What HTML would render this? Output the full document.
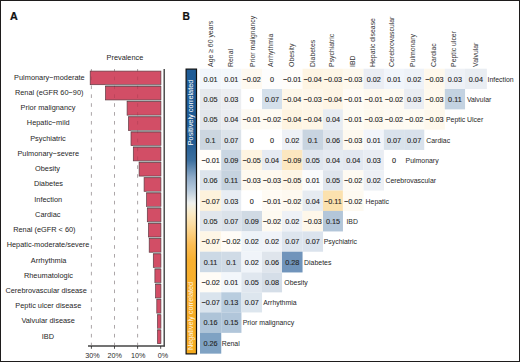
<!DOCTYPE html>
<html><head><meta charset="utf-8"><style>
html,body{margin:0;padding:0;background:#fff;}
body{width:520px;height:362px;overflow:hidden;}
svg{display:block;}
text{font-family:"Liberation Sans",sans-serif;}
</style></head><body>
<svg width="520" height="362" viewBox="0 0 520 362">
<defs>
<linearGradient id="cb" x1="0" y1="0" x2="0" y2="1">
<stop offset="0" stop-color="#1f5c96"/>
<stop offset="0.25" stop-color="#1f5a92"/>
<stop offset="0.32" stop-color="#3b6f9f"/>
<stop offset="0.38" stop-color="#8fabc8"/>
<stop offset="0.425" stop-color="#b7cadc"/>
<stop offset="0.47" stop-color="#eef0ee"/>
<stop offset="0.505" stop-color="#faebc8"/>
<stop offset="0.547" stop-color="#fcdca0"/>
<stop offset="0.617" stop-color="#fbbd55"/>
<stop offset="0.67" stop-color="#f8b030"/>
<stop offset="1" stop-color="#f5ab1e"/>
</linearGradient>
</defs>
<rect x="0" y="0" width="520" height="362" fill="#fff"/>

<text transform="translate(10.0,19.75) scale(0.94,1)" font-size="11.4" font-weight="bold" fill="#111" stroke="#111" stroke-width="0.25">A</text>
<text transform="translate(182.6,19.75) scale(0.9,1)" font-size="11.4" font-weight="bold" fill="#111" stroke="#111" stroke-width="0.25">B</text>
<text transform="translate(106.6,59.5) scale(0.93,1)" font-size="7.9" fill="#262626">Prevalence</text>
<line x1="91.4" y1="69" x2="91.4" y2="345" stroke="#a0a0a0" stroke-width="0.7" stroke-dasharray="3.6,5.27" stroke-dashoffset="1.25"/>
<line x1="114.5" y1="69" x2="114.5" y2="345" stroke="#a0a0a0" stroke-width="0.7" stroke-dasharray="3.6,5.27" stroke-dashoffset="1.25"/>
<line x1="137.6" y1="69" x2="137.6" y2="345" stroke="#a0a0a0" stroke-width="0.7" stroke-dasharray="3.6,5.27" stroke-dashoffset="1.25"/>
<rect x="90.2" y="71.10" width="70.70" height="13.6" fill="#d24e66" stroke="#5e3a42" stroke-width="0.7"/>
<text transform="translate(49.40,79.80) scale(0.91,1)" font-size="8.1" fill="#262626" text-anchor="middle">Pulmonary−moderate</text>
<rect x="105.20" y="84.73" width="55.70" height="1.6" fill="#a9b0b0"/>
<rect x="105.5" y="86.33" width="55.40" height="13.6" fill="#d24e66" stroke="#5e3a42" stroke-width="0.7"/>
<text transform="translate(49.20,95.03) scale(0.91,1)" font-size="8.1" fill="#262626" text-anchor="middle">Renal (eGFR 60−90)</text>
<rect x="126.80" y="99.96" width="34.10" height="1.6" fill="#a9b0b0"/>
<rect x="127.1" y="101.56" width="33.80" height="13.6" fill="#d24e66" stroke="#5e3a42" stroke-width="0.7"/>
<text transform="translate(48.00,110.26) scale(0.91,1)" font-size="8.1" fill="#262626" text-anchor="middle">Prior malignancy</text>
<rect x="128.20" y="115.19" width="32.70" height="1.6" fill="#a9b0b0"/>
<rect x="128.5" y="116.79" width="32.40" height="13.6" fill="#d24e66" stroke="#5e3a42" stroke-width="0.7"/>
<text transform="translate(48.25,125.49) scale(0.91,1)" font-size="8.1" fill="#262626" text-anchor="middle">Hepatic−mild</text>
<rect x="130.70" y="130.42" width="30.20" height="1.6" fill="#a9b0b0"/>
<rect x="131.0" y="132.02" width="29.90" height="13.6" fill="#d24e66" stroke="#5e3a42" stroke-width="0.7"/>
<text transform="translate(48.00,140.72) scale(0.91,1)" font-size="8.1" fill="#262626" text-anchor="middle">Psychiatric</text>
<rect x="133.00" y="145.65" width="27.90" height="1.6" fill="#a9b0b0"/>
<rect x="133.3" y="147.25" width="27.60" height="13.6" fill="#d24e66" stroke="#5e3a42" stroke-width="0.7"/>
<text transform="translate(48.25,155.95) scale(0.91,1)" font-size="8.1" fill="#262626" text-anchor="middle">Pulmonary−severe</text>
<rect x="138.80" y="160.88" width="22.10" height="1.6" fill="#a9b0b0"/>
<rect x="139.1" y="162.48" width="21.80" height="13.6" fill="#d24e66" stroke="#5e3a42" stroke-width="0.7"/>
<text transform="translate(47.50,171.18) scale(0.91,1)" font-size="8.1" fill="#262626" text-anchor="middle">Obesity</text>
<rect x="143.80" y="176.11" width="17.10" height="1.6" fill="#a9b0b0"/>
<rect x="144.1" y="177.71" width="16.80" height="13.6" fill="#d24e66" stroke="#5e3a42" stroke-width="0.7"/>
<text transform="translate(48.45,186.41) scale(0.91,1)" font-size="8.1" fill="#262626" text-anchor="middle">Diabetes</text>
<rect x="146.30" y="191.34" width="14.60" height="1.6" fill="#a9b0b0"/>
<rect x="146.6" y="192.94" width="14.30" height="13.6" fill="#d24e66" stroke="#5e3a42" stroke-width="0.7"/>
<text transform="translate(48.20,201.64) scale(0.91,1)" font-size="8.1" fill="#262626" text-anchor="middle">Infection</text>
<rect x="147.00" y="206.57" width="13.90" height="1.6" fill="#a9b0b0"/>
<rect x="147.3" y="208.17" width="13.60" height="13.6" fill="#d24e66" stroke="#5e3a42" stroke-width="0.7"/>
<text transform="translate(47.75,216.87) scale(0.91,1)" font-size="8.1" fill="#262626" text-anchor="middle">Cardiac</text>
<rect x="148.20" y="221.80" width="12.70" height="1.6" fill="#a9b0b0"/>
<rect x="148.5" y="223.40" width="12.40" height="13.6" fill="#d24e66" stroke="#5e3a42" stroke-width="0.7"/>
<text transform="translate(44.35,232.10) scale(0.91,1)" font-size="8.1" fill="#262626" text-anchor="middle">Renal (eGFR &lt; 60)</text>
<rect x="148.90" y="237.03" width="12.00" height="1.6" fill="#a9b0b0"/>
<rect x="149.2" y="238.63" width="11.70" height="13.6" fill="#d24e66" stroke="#5e3a42" stroke-width="0.7"/>
<text transform="translate(48.00,247.33) scale(0.91,1)" font-size="8.1" fill="#262626" text-anchor="middle">Hepatic-moderate/severe</text>
<rect x="153.00" y="252.26" width="7.90" height="1.6" fill="#a9b0b0"/>
<rect x="153.3" y="253.86" width="7.60" height="13.6" fill="#d24e66" stroke="#5e3a42" stroke-width="0.7"/>
<text transform="translate(48.60,262.56) scale(0.91,1)" font-size="8.1" fill="#262626" text-anchor="middle">Arrhythmia</text>
<rect x="154.60" y="267.49" width="6.30" height="1.6" fill="#a9b0b0"/>
<rect x="154.9" y="269.09" width="6.00" height="13.6" fill="#d24e66" stroke="#5e3a42" stroke-width="0.7"/>
<text transform="translate(48.45,277.79) scale(0.91,1)" font-size="8.1" fill="#262626" text-anchor="middle">Rheumatologic</text>
<rect x="155.30" y="282.72" width="5.60" height="1.6" fill="#a9b0b0"/>
<rect x="155.6" y="284.32" width="5.30" height="13.6" fill="#d24e66" stroke="#5e3a42" stroke-width="0.7"/>
<text transform="translate(46.15,293.02) scale(0.91,1)" font-size="8.1" fill="#262626" text-anchor="middle">Cerebrovascular disease</text>
<rect x="156.50" y="297.95" width="4.40" height="1.6" fill="#a9b0b0"/>
<rect x="156.8" y="299.55" width="4.10" height="13.6" fill="#d24e66" stroke="#5e3a42" stroke-width="0.7"/>
<text transform="translate(48.30,308.25) scale(0.91,1)" font-size="8.1" fill="#262626" text-anchor="middle">Peptic ulcer disease</text>
<rect x="157.20" y="313.18" width="3.70" height="1.6" fill="#a9b0b0"/>
<rect x="157.5" y="314.78" width="3.40" height="13.6" fill="#d24e66" stroke="#5e3a42" stroke-width="0.7"/>
<text transform="translate(48.15,323.48) scale(0.91,1)" font-size="8.1" fill="#262626" text-anchor="middle">Valvular disease</text>
<rect x="157.20" y="328.41" width="3.70" height="1.6" fill="#a9b0b0"/>
<rect x="157.5" y="330.01" width="3.40" height="13.6" fill="#d24e66" stroke="#5e3a42" stroke-width="0.7"/>
<text transform="translate(47.95,338.71) scale(0.91,1)" font-size="8.1" fill="#262626" text-anchor="middle">IBD</text>
<line x1="91.4" y1="69" x2="91.4" y2="345" stroke="#3a0a18" stroke-opacity="0.18" stroke-width="0.7" stroke-dasharray="3.6,5.27" stroke-dashoffset="1.25"/>
<line x1="114.5" y1="69" x2="114.5" y2="345" stroke="#3a0a18" stroke-opacity="0.18" stroke-width="0.7" stroke-dasharray="3.6,5.27" stroke-dashoffset="1.25"/>
<line x1="137.6" y1="69" x2="137.6" y2="345" stroke="#3a0a18" stroke-opacity="0.18" stroke-width="0.7" stroke-dasharray="3.6,5.27" stroke-dashoffset="1.25"/>
<line x1="164.2" y1="69.1" x2="164.2" y2="346.6" stroke="#333" stroke-width="1.3"/>
<line x1="88" y1="346" x2="164.85" y2="346" stroke="#444" stroke-width="1.3"/>
<line x1="91.4" y1="346" x2="91.4" y2="348.8" stroke="#222" stroke-width="0.8"/>
<text transform="translate(92.5,357.8) scale(0.95,1)" font-size="7.6" fill="#2a2a2a" text-anchor="middle">30%</text>
<line x1="114.5" y1="346" x2="114.5" y2="348.8" stroke="#222" stroke-width="0.8"/>
<text transform="translate(114.6,357.8) scale(0.95,1)" font-size="7.6" fill="#2a2a2a" text-anchor="middle">20%</text>
<line x1="137.6" y1="346" x2="137.6" y2="348.8" stroke="#222" stroke-width="0.8"/>
<text transform="translate(138.3,357.8) scale(0.95,1)" font-size="7.6" fill="#2a2a2a" text-anchor="middle">10%</text>
<line x1="160.7" y1="346" x2="160.7" y2="348.8" stroke="#222" stroke-width="0.8"/>
<text transform="translate(162.9,357.8) scale(0.95,1)" font-size="7.6" fill="#2a2a2a" text-anchor="middle">0%</text>
<rect x="200.00" y="68.70" width="21.25" height="20.35" fill="#f2f6fb"/>
<rect x="221.20" y="68.70" width="20.25" height="20.35" fill="#f4f8fc"/>
<rect x="241.40" y="68.70" width="20.65" height="20.35" fill="#fef9f0"/>
<rect x="262.00" y="68.70" width="20.05" height="20.35" fill="#fdfdfd"/>
<rect x="282.00" y="68.70" width="20.55" height="20.35" fill="#fffdfa"/>
<rect x="302.50" y="68.70" width="20.55" height="20.35" fill="#fef5e3"/>
<rect x="323.00" y="68.70" width="19.95" height="20.35" fill="#fef6e6"/>
<rect x="342.90" y="68.70" width="20.65" height="20.35" fill="#fef9ee"/>
<rect x="363.50" y="68.70" width="20.45" height="20.35" fill="#eaedf3"/>
<rect x="383.90" y="68.70" width="20.25" height="20.35" fill="#f1f5fb"/>
<rect x="404.10" y="68.70" width="20.15" height="20.35" fill="#eef2f8"/>
<rect x="424.20" y="68.70" width="20.65" height="20.35" fill="#fef8ec"/>
<rect x="444.80" y="68.70" width="20.25" height="20.35" fill="#eef1f6"/>
<rect x="465.00" y="68.70" width="21.85" height="20.35" fill="#e9edf2"/>
<text x="210.60" y="81.65" font-size="7.25" fill="#262626" stroke="#262626" stroke-width="0.12" text-anchor="middle">0.01</text>
<text x="231.30" y="81.65" font-size="7.25" fill="#262626" stroke="#262626" stroke-width="0.12" text-anchor="middle">0.01</text>
<text x="251.70" y="81.65" font-size="7.25" fill="#262626" stroke="#262626" stroke-width="0.12" text-anchor="middle">−0.02</text>
<text x="272.00" y="81.65" font-size="7.25" fill="#262626" stroke="#262626" stroke-width="0.12" text-anchor="middle">0</text>
<text x="292.25" y="81.65" font-size="7.25" fill="#262626" stroke="#262626" stroke-width="0.12" text-anchor="middle">−0.01</text>
<text x="312.75" y="81.65" font-size="7.25" fill="#262626" stroke="#262626" stroke-width="0.12" text-anchor="middle">−0.04</text>
<text x="332.95" y="81.65" font-size="7.25" fill="#262626" stroke="#262626" stroke-width="0.12" text-anchor="middle">−0.03</text>
<text x="353.20" y="81.65" font-size="7.25" fill="#262626" stroke="#262626" stroke-width="0.12" text-anchor="middle">−0.03</text>
<text x="373.70" y="81.65" font-size="7.25" fill="#262626" stroke="#262626" stroke-width="0.12" text-anchor="middle">0.02</text>
<text x="394.00" y="81.65" font-size="7.25" fill="#262626" stroke="#262626" stroke-width="0.12" text-anchor="middle">0.01</text>
<text x="414.15" y="81.65" font-size="7.25" fill="#262626" stroke="#262626" stroke-width="0.12" text-anchor="middle">0.02</text>
<text x="434.50" y="81.65" font-size="7.25" fill="#262626" stroke="#262626" stroke-width="0.12" text-anchor="middle">−0.03</text>
<text x="454.90" y="81.65" font-size="7.25" fill="#262626" stroke="#262626" stroke-width="0.12" text-anchor="middle">0.03</text>
<text x="475.90" y="81.65" font-size="7.25" fill="#262626" stroke="#262626" stroke-width="0.12" text-anchor="middle">0.04</text>
<text transform="translate(487.50,81.65) scale(0.94,1)" font-size="7.35" fill="#262626">Infection</text>
<rect x="200.00" y="89.00" width="21.25" height="20.35" fill="#e6e9ed"/>
<rect x="221.20" y="89.00" width="20.25" height="20.35" fill="#eceef1"/>
<rect x="241.40" y="89.00" width="20.65" height="20.35" fill="#ffffff"/>
<rect x="262.00" y="89.00" width="20.05" height="20.35" fill="#d4e0eb"/>
<rect x="282.00" y="89.00" width="20.55" height="20.35" fill="#fef7e9"/>
<rect x="302.50" y="89.00" width="20.55" height="20.35" fill="#fef7ea"/>
<rect x="323.00" y="89.00" width="19.95" height="20.35" fill="#fef5e5"/>
<rect x="342.90" y="89.00" width="20.65" height="20.35" fill="#fffbf5"/>
<rect x="363.50" y="89.00" width="20.45" height="20.35" fill="#fef9f0"/>
<rect x="383.90" y="89.00" width="20.25" height="20.35" fill="#fefaf2"/>
<rect x="404.10" y="89.00" width="20.15" height="20.35" fill="#eaedf2"/>
<rect x="424.20" y="89.00" width="20.65" height="20.35" fill="#fef9ee"/>
<rect x="444.80" y="89.00" width="20.25" height="20.35" fill="#c3d2e1"/>
<text x="210.60" y="101.95" font-size="7.25" fill="#262626" stroke="#262626" stroke-width="0.12" text-anchor="middle">0.05</text>
<text x="231.30" y="101.95" font-size="7.25" fill="#262626" stroke="#262626" stroke-width="0.12" text-anchor="middle">0.03</text>
<text x="251.70" y="101.95" font-size="7.25" fill="#262626" stroke="#262626" stroke-width="0.12" text-anchor="middle">0</text>
<text x="272.00" y="101.95" font-size="7.25" fill="#262626" stroke="#262626" stroke-width="0.12" text-anchor="middle">0.07</text>
<text x="292.25" y="101.95" font-size="7.25" fill="#262626" stroke="#262626" stroke-width="0.12" text-anchor="middle">−0.04</text>
<text x="312.75" y="101.95" font-size="7.25" fill="#262626" stroke="#262626" stroke-width="0.12" text-anchor="middle">−0.03</text>
<text x="332.95" y="101.95" font-size="7.25" fill="#262626" stroke="#262626" stroke-width="0.12" text-anchor="middle">−0.04</text>
<text x="353.20" y="101.95" font-size="7.25" fill="#262626" stroke="#262626" stroke-width="0.12" text-anchor="middle">−0.01</text>
<text x="373.70" y="101.95" font-size="7.25" fill="#262626" stroke="#262626" stroke-width="0.12" text-anchor="middle">−0.01</text>
<text x="394.00" y="101.95" font-size="7.25" fill="#262626" stroke="#262626" stroke-width="0.12" text-anchor="middle">−0.02</text>
<text x="414.15" y="101.95" font-size="7.25" fill="#262626" stroke="#262626" stroke-width="0.12" text-anchor="middle">0.03</text>
<text x="434.50" y="101.95" font-size="7.25" fill="#262626" stroke="#262626" stroke-width="0.12" text-anchor="middle">−0.03</text>
<text x="454.90" y="101.95" font-size="7.25" fill="#262626" stroke="#262626" stroke-width="0.12" text-anchor="middle">0.11</text>
<text transform="translate(466.90,101.95) scale(0.94,1)" font-size="7.35" fill="#262626">Valvular</text>
<rect x="200.00" y="109.30" width="21.25" height="20.35" fill="#e2e6eb"/>
<rect x="221.20" y="109.30" width="20.25" height="20.35" fill="#eaedf1"/>
<rect x="241.40" y="109.30" width="20.65" height="20.35" fill="#fefaf2"/>
<rect x="262.00" y="109.30" width="20.05" height="20.35" fill="#fefbf3"/>
<rect x="282.00" y="109.30" width="20.55" height="20.35" fill="#fef4e1"/>
<rect x="302.50" y="109.30" width="20.55" height="20.35" fill="#fef6e6"/>
<rect x="323.00" y="109.30" width="19.95" height="20.35" fill="#e7ecf2"/>
<rect x="342.90" y="109.30" width="20.65" height="20.35" fill="#fefbf3"/>
<rect x="363.50" y="109.30" width="20.45" height="20.35" fill="#fef9ee"/>
<rect x="383.90" y="109.30" width="20.25" height="20.35" fill="#fefaf2"/>
<rect x="404.10" y="109.30" width="20.15" height="20.35" fill="#fefbf3"/>
<rect x="424.20" y="109.30" width="20.65" height="20.35" fill="#fef8ec"/>
<text x="210.60" y="122.25" font-size="7.25" fill="#262626" stroke="#262626" stroke-width="0.12" text-anchor="middle">0.05</text>
<text x="231.30" y="122.25" font-size="7.25" fill="#262626" stroke="#262626" stroke-width="0.12" text-anchor="middle">0.04</text>
<text x="251.70" y="122.25" font-size="7.25" fill="#262626" stroke="#262626" stroke-width="0.12" text-anchor="middle">−0.01</text>
<text x="272.00" y="122.25" font-size="7.25" fill="#262626" stroke="#262626" stroke-width="0.12" text-anchor="middle">−0.02</text>
<text x="292.25" y="122.25" font-size="7.25" fill="#262626" stroke="#262626" stroke-width="0.12" text-anchor="middle">−0.04</text>
<text x="312.75" y="122.25" font-size="7.25" fill="#262626" stroke="#262626" stroke-width="0.12" text-anchor="middle">−0.04</text>
<text x="332.95" y="122.25" font-size="7.25" fill="#262626" stroke="#262626" stroke-width="0.12" text-anchor="middle">0.04</text>
<text x="353.20" y="122.25" font-size="7.25" fill="#262626" stroke="#262626" stroke-width="0.12" text-anchor="middle">−0.01</text>
<text x="373.70" y="122.25" font-size="7.25" fill="#262626" stroke="#262626" stroke-width="0.12" text-anchor="middle">−0.03</text>
<text x="394.00" y="122.25" font-size="7.25" fill="#262626" stroke="#262626" stroke-width="0.12" text-anchor="middle">−0.02</text>
<text x="414.15" y="122.25" font-size="7.25" fill="#262626" stroke="#262626" stroke-width="0.12" text-anchor="middle">−0.02</text>
<text x="434.50" y="122.25" font-size="7.25" fill="#262626" stroke="#262626" stroke-width="0.12" text-anchor="middle">−0.03</text>
<text transform="translate(446.00,122.25) scale(0.94,1)" font-size="7.35" fill="#262626">Peptic Ulcer</text>
<rect x="200.00" y="129.60" width="21.25" height="20.35" fill="#ccd6e0"/>
<rect x="221.20" y="129.60" width="20.25" height="20.35" fill="#dce3ea"/>
<rect x="241.40" y="129.60" width="20.65" height="20.35" fill="#ffffff"/>
<rect x="262.00" y="129.60" width="20.05" height="20.35" fill="#ffffff"/>
<rect x="282.00" y="129.60" width="20.55" height="20.35" fill="#eef1f6"/>
<rect x="302.50" y="129.60" width="20.55" height="20.35" fill="#c8d4e0"/>
<rect x="323.00" y="129.60" width="19.95" height="20.35" fill="#dfe5ec"/>
<rect x="342.90" y="129.60" width="20.65" height="20.35" fill="#fef9ef"/>
<rect x="363.50" y="129.60" width="20.45" height="20.35" fill="#f2f5fa"/>
<rect x="383.90" y="129.60" width="20.25" height="20.35" fill="#d9e2eb"/>
<rect x="404.10" y="129.60" width="20.15" height="20.35" fill="#d8e1eb"/>
<text x="210.60" y="142.55" font-size="7.25" fill="#262626" stroke="#262626" stroke-width="0.12" text-anchor="middle">0.1</text>
<text x="231.30" y="142.55" font-size="7.25" fill="#262626" stroke="#262626" stroke-width="0.12" text-anchor="middle">0.07</text>
<text x="251.70" y="142.55" font-size="7.25" fill="#262626" stroke="#262626" stroke-width="0.12" text-anchor="middle">0</text>
<text x="272.00" y="142.55" font-size="7.25" fill="#262626" stroke="#262626" stroke-width="0.12" text-anchor="middle">0</text>
<text x="292.25" y="142.55" font-size="7.25" fill="#262626" stroke="#262626" stroke-width="0.12" text-anchor="middle">0.02</text>
<text x="312.75" y="142.55" font-size="7.25" fill="#262626" stroke="#262626" stroke-width="0.12" text-anchor="middle">0.1</text>
<text x="332.95" y="142.55" font-size="7.25" fill="#262626" stroke="#262626" stroke-width="0.12" text-anchor="middle">0.06</text>
<text x="353.20" y="142.55" font-size="7.25" fill="#262626" stroke="#262626" stroke-width="0.12" text-anchor="middle">−0.03</text>
<text x="373.70" y="142.55" font-size="7.25" fill="#262626" stroke="#262626" stroke-width="0.12" text-anchor="middle">0.01</text>
<text x="394.00" y="142.55" font-size="7.25" fill="#262626" stroke="#262626" stroke-width="0.12" text-anchor="middle">0.07</text>
<text x="414.15" y="142.55" font-size="7.25" fill="#262626" stroke="#262626" stroke-width="0.12" text-anchor="middle">0.07</text>
<text transform="translate(426.30,142.55) scale(0.94,1)" font-size="7.35" fill="#262626">Cardiac</text>
<rect x="200.00" y="149.90" width="21.25" height="20.35" fill="#fffdf9"/>
<rect x="221.20" y="149.90" width="20.25" height="20.35" fill="#c9d6e2"/>
<rect x="241.40" y="149.90" width="20.65" height="20.35" fill="#fef4e1"/>
<rect x="262.00" y="149.90" width="20.05" height="20.35" fill="#e6ebf2"/>
<rect x="282.00" y="149.90" width="20.55" height="20.35" fill="#fce7c0"/>
<rect x="302.50" y="149.90" width="20.55" height="20.35" fill="#e0e6ee"/>
<rect x="323.00" y="149.90" width="19.95" height="20.35" fill="#e5eaf1"/>
<rect x="342.90" y="149.90" width="20.65" height="20.35" fill="#e3e8f0"/>
<rect x="363.50" y="149.90" width="20.45" height="20.35" fill="#e9edf3"/>
<rect x="383.90" y="149.90" width="20.25" height="20.35" fill="#ffffff"/>
<text x="210.60" y="162.85" font-size="7.25" fill="#262626" stroke="#262626" stroke-width="0.12" text-anchor="middle">−0.01</text>
<text x="231.30" y="162.85" font-size="7.25" fill="#262626" stroke="#262626" stroke-width="0.12" text-anchor="middle">0.09</text>
<text x="251.70" y="162.85" font-size="7.25" fill="#262626" stroke="#262626" stroke-width="0.12" text-anchor="middle">−0.05</text>
<text x="272.00" y="162.85" font-size="7.25" fill="#262626" stroke="#262626" stroke-width="0.12" text-anchor="middle">0.04</text>
<text x="292.25" y="162.85" font-size="7.25" fill="#262626" stroke="#262626" stroke-width="0.12" text-anchor="middle">−0.09</text>
<text x="312.75" y="162.85" font-size="7.25" fill="#262626" stroke="#262626" stroke-width="0.12" text-anchor="middle">0.05</text>
<text x="332.95" y="162.85" font-size="7.25" fill="#262626" stroke="#262626" stroke-width="0.12" text-anchor="middle">0.04</text>
<text x="353.20" y="162.85" font-size="7.25" fill="#262626" stroke="#262626" stroke-width="0.12" text-anchor="middle">0.04</text>
<text x="373.70" y="162.85" font-size="7.25" fill="#262626" stroke="#262626" stroke-width="0.12" text-anchor="middle">0.03</text>
<text x="394.00" y="162.85" font-size="7.25" fill="#262626" stroke="#262626" stroke-width="0.12" text-anchor="middle">0</text>
<text transform="translate(405.60,162.85) scale(0.94,1)" font-size="7.35" fill="#262626">Pulmonary</text>
<rect x="200.00" y="170.20" width="21.25" height="20.35" fill="#dde4ec"/>
<rect x="221.20" y="170.20" width="20.25" height="20.35" fill="#c6d3df"/>
<rect x="241.40" y="170.20" width="20.65" height="20.35" fill="#fef9ef"/>
<rect x="262.00" y="170.20" width="20.05" height="20.35" fill="#fef9ef"/>
<rect x="282.00" y="170.20" width="20.55" height="20.35" fill="#fef5e5"/>
<rect x="302.50" y="170.20" width="20.55" height="20.35" fill="#fafbfc"/>
<rect x="323.00" y="170.20" width="19.95" height="20.35" fill="#dfe5ed"/>
<rect x="342.90" y="170.20" width="20.65" height="20.35" fill="#fefaf2"/>
<rect x="363.50" y="170.20" width="20.45" height="20.35" fill="#edf0f5"/>
<text x="210.60" y="183.15" font-size="7.25" fill="#262626" stroke="#262626" stroke-width="0.12" text-anchor="middle">0.06</text>
<text x="231.30" y="183.15" font-size="7.25" fill="#262626" stroke="#262626" stroke-width="0.12" text-anchor="middle">0.11</text>
<text x="251.70" y="183.15" font-size="7.25" fill="#262626" stroke="#262626" stroke-width="0.12" text-anchor="middle">−0.03</text>
<text x="272.00" y="183.15" font-size="7.25" fill="#262626" stroke="#262626" stroke-width="0.12" text-anchor="middle">−0.03</text>
<text x="292.25" y="183.15" font-size="7.25" fill="#262626" stroke="#262626" stroke-width="0.12" text-anchor="middle">−0.05</text>
<text x="312.75" y="183.15" font-size="7.25" fill="#262626" stroke="#262626" stroke-width="0.12" text-anchor="middle">0.01</text>
<text x="332.95" y="183.15" font-size="7.25" fill="#262626" stroke="#262626" stroke-width="0.12" text-anchor="middle">0.05</text>
<text x="353.20" y="183.15" font-size="7.25" fill="#262626" stroke="#262626" stroke-width="0.12" text-anchor="middle">−0.02</text>
<text x="373.70" y="183.15" font-size="7.25" fill="#262626" stroke="#262626" stroke-width="0.12" text-anchor="middle">0.02</text>
<text transform="translate(385.40,183.15) scale(0.94,1)" font-size="7.35" fill="#262626">Cerebrovascular</text>
<rect x="200.00" y="190.50" width="21.25" height="20.45" fill="#fdf2dc"/>
<rect x="221.20" y="190.50" width="20.25" height="20.45" fill="#e8edf3"/>
<rect x="241.40" y="190.50" width="20.65" height="20.45" fill="#ffffff"/>
<rect x="262.00" y="190.50" width="20.05" height="20.45" fill="#fffbf4"/>
<rect x="282.00" y="190.50" width="20.55" height="20.45" fill="#fef9f0"/>
<rect x="302.50" y="190.50" width="20.55" height="20.45" fill="#e6ebf1"/>
<rect x="323.00" y="190.50" width="19.95" height="20.45" fill="#fbe1ae"/>
<rect x="342.90" y="190.50" width="20.65" height="20.45" fill="#fefaf1"/>
<text x="210.60" y="203.50" font-size="7.25" fill="#262626" stroke="#262626" stroke-width="0.12" text-anchor="middle">−0.07</text>
<text x="231.30" y="203.50" font-size="7.25" fill="#262626" stroke="#262626" stroke-width="0.12" text-anchor="middle">0.03</text>
<text x="251.70" y="203.50" font-size="7.25" fill="#262626" stroke="#262626" stroke-width="0.12" text-anchor="middle">0</text>
<text x="272.00" y="203.50" font-size="7.25" fill="#262626" stroke="#262626" stroke-width="0.12" text-anchor="middle">−0.01</text>
<text x="292.25" y="203.50" font-size="7.25" fill="#262626" stroke="#262626" stroke-width="0.12" text-anchor="middle">−0.02</text>
<text x="312.75" y="203.50" font-size="7.25" fill="#262626" stroke="#262626" stroke-width="0.12" text-anchor="middle">0.04</text>
<text x="332.95" y="203.50" font-size="7.25" fill="#262626" stroke="#262626" stroke-width="0.12" text-anchor="middle">−0.11</text>
<text x="353.20" y="203.50" font-size="7.25" fill="#262626" stroke="#262626" stroke-width="0.12" text-anchor="middle">−0.02</text>
<text transform="translate(365.60,203.50) scale(0.94,1)" font-size="7.35" fill="#262626">Hepatic</text>
<rect x="200.00" y="210.90" width="21.25" height="20.55" fill="#e1e6ec"/>
<rect x="221.20" y="210.90" width="20.25" height="20.55" fill="#dbe2ea"/>
<rect x="241.40" y="210.90" width="20.65" height="20.55" fill="#d0dae4"/>
<rect x="262.00" y="210.90" width="20.05" height="20.55" fill="#fefaf1"/>
<rect x="282.00" y="210.90" width="20.55" height="20.55" fill="#eef1f6"/>
<rect x="302.50" y="210.90" width="20.55" height="20.55" fill="#fef7ea"/>
<rect x="323.00" y="210.90" width="19.95" height="20.55" fill="#b3c6d9"/>
<text x="210.60" y="223.95" font-size="7.25" fill="#262626" stroke="#262626" stroke-width="0.12" text-anchor="middle">0.05</text>
<text x="231.30" y="223.95" font-size="7.25" fill="#262626" stroke="#262626" stroke-width="0.12" text-anchor="middle">0.07</text>
<text x="251.70" y="223.95" font-size="7.25" fill="#262626" stroke="#262626" stroke-width="0.12" text-anchor="middle">0.09</text>
<text x="272.00" y="223.95" font-size="7.25" fill="#262626" stroke="#262626" stroke-width="0.12" text-anchor="middle">−0.02</text>
<text x="292.25" y="223.95" font-size="7.25" fill="#262626" stroke="#262626" stroke-width="0.12" text-anchor="middle">0.02</text>
<text x="312.75" y="223.95" font-size="7.25" fill="#262626" stroke="#262626" stroke-width="0.12" text-anchor="middle">−0.03</text>
<text x="332.95" y="223.95" font-size="7.25" fill="#262626" stroke="#262626" stroke-width="0.12" text-anchor="middle">0.15</text>
<text transform="translate(346.40,223.95) scale(0.94,1)" font-size="7.35" fill="#262626">IBD</text>
<rect x="200.00" y="231.40" width="21.25" height="20.35" fill="#fef6e6"/>
<rect x="221.20" y="231.40" width="20.25" height="20.35" fill="#fffcf7"/>
<rect x="241.40" y="231.40" width="20.65" height="20.35" fill="#eef3f8"/>
<rect x="262.00" y="231.40" width="20.05" height="20.35" fill="#f0f3f8"/>
<rect x="282.00" y="231.40" width="20.55" height="20.35" fill="#dde5ee"/>
<rect x="302.50" y="231.40" width="20.55" height="20.35" fill="#dbe3ed"/>
<text x="210.60" y="244.35" font-size="7.25" fill="#262626" stroke="#262626" stroke-width="0.12" text-anchor="middle">−0.07</text>
<text x="231.30" y="244.35" font-size="7.25" fill="#262626" stroke="#262626" stroke-width="0.12" text-anchor="middle">−0.02</text>
<text x="251.70" y="244.35" font-size="7.25" fill="#262626" stroke="#262626" stroke-width="0.12" text-anchor="middle">0.02</text>
<text x="272.00" y="244.35" font-size="7.25" fill="#262626" stroke="#262626" stroke-width="0.12" text-anchor="middle">0.02</text>
<text x="292.25" y="244.35" font-size="7.25" fill="#262626" stroke="#262626" stroke-width="0.12" text-anchor="middle">0.07</text>
<text x="312.75" y="244.35" font-size="7.25" fill="#262626" stroke="#262626" stroke-width="0.12" text-anchor="middle">0.07</text>
<text transform="translate(323.70,244.35) scale(0.94,1)" font-size="7.35" fill="#262626">Psychiatric</text>
<rect x="200.00" y="251.70" width="21.25" height="20.75" fill="#ccd9e5"/>
<rect x="221.20" y="251.70" width="20.25" height="20.75" fill="#d0dbe6"/>
<rect x="241.40" y="251.70" width="20.65" height="20.75" fill="#f0f4f9"/>
<rect x="262.00" y="251.70" width="20.05" height="20.75" fill="#dfe5ec"/>
<rect x="282.00" y="251.70" width="20.55" height="20.75" fill="#7094bb"/>
<text x="210.60" y="264.85" font-size="7.25" fill="#262626" stroke="#262626" stroke-width="0.12" text-anchor="middle">0.11</text>
<text x="231.30" y="264.85" font-size="7.25" fill="#262626" stroke="#262626" stroke-width="0.12" text-anchor="middle">0.1</text>
<text x="251.70" y="264.85" font-size="7.25" fill="#262626" stroke="#262626" stroke-width="0.12" text-anchor="middle">0.02</text>
<text x="272.00" y="264.85" font-size="7.25" fill="#262626" stroke="#262626" stroke-width="0.12" text-anchor="middle">0.06</text>
<text x="292.25" y="264.85" font-size="7.25" fill="#262626" stroke="#262626" stroke-width="0.12" text-anchor="middle">0.28</text>
<text transform="translate(304.10,264.85) scale(0.94,1)" font-size="7.35" fill="#262626">Diabetes</text>
<rect x="200.00" y="272.40" width="21.25" height="19.95" fill="#fffcf6"/>
<rect x="221.20" y="272.40" width="20.25" height="19.95" fill="#f3f7fb"/>
<rect x="241.40" y="272.40" width="20.65" height="19.95" fill="#e0e7ef"/>
<rect x="262.00" y="272.40" width="20.05" height="19.95" fill="#d5dee8"/>
<text x="210.60" y="285.15" font-size="7.25" fill="#262626" stroke="#262626" stroke-width="0.12" text-anchor="middle">−0.02</text>
<text x="231.30" y="285.15" font-size="7.25" fill="#262626" stroke="#262626" stroke-width="0.12" text-anchor="middle">0.01</text>
<text x="251.70" y="285.15" font-size="7.25" fill="#262626" stroke="#262626" stroke-width="0.12" text-anchor="middle">0.05</text>
<text x="272.00" y="285.15" font-size="7.25" fill="#262626" stroke="#262626" stroke-width="0.12" text-anchor="middle">0.08</text>
<text transform="translate(284.35,285.15) scale(0.94,1)" font-size="7.35" fill="#262626">Obesity</text>
<rect x="200.00" y="292.30" width="21.25" height="20.15" fill="#dae4ed"/>
<rect x="221.20" y="292.30" width="20.25" height="20.15" fill="#b9cddf"/>
<rect x="241.40" y="292.30" width="20.65" height="20.15" fill="#dde6ee"/>
<text x="210.60" y="305.15" font-size="7.25" fill="#262626" stroke="#262626" stroke-width="0.12" text-anchor="middle">−0.07</text>
<text x="231.30" y="305.15" font-size="7.25" fill="#262626" stroke="#262626" stroke-width="0.12" text-anchor="middle">0.13</text>
<text x="251.70" y="305.15" font-size="7.25" fill="#262626" stroke="#262626" stroke-width="0.12" text-anchor="middle">0.07</text>
<text transform="translate(263.20,305.15) scale(0.94,1)" font-size="7.35" fill="#262626">Arrhythmia</text>
<rect x="200.00" y="312.40" width="21.25" height="20.45" fill="#aec4d8"/>
<rect x="221.20" y="312.40" width="20.25" height="20.45" fill="#b1c6da"/>
<text x="210.60" y="325.40" font-size="7.25" fill="#262626" stroke="#262626" stroke-width="0.12" text-anchor="middle">0.16</text>
<text x="231.30" y="325.40" font-size="7.25" fill="#262626" stroke="#262626" stroke-width="0.12" text-anchor="middle">0.15</text>
<text transform="translate(242.70,325.40) scale(0.94,1)" font-size="7.35" fill="#262626">Prior malignancy</text>
<rect x="200.00" y="332.80" width="21.25" height="20.85" fill="#7fa2c3"/>
<text x="210.60" y="346.00" font-size="7.25" fill="#262626" stroke="#262626" stroke-width="0.12" text-anchor="middle">0.26</text>
<text transform="translate(221.70,346.00) scale(0.94,1)" font-size="7.35" fill="#262626">Renal</text>
<text transform="translate(212.70,66.9) rotate(-90) scale(0.94,1)" font-size="7.3" fill="#333">Age ≥ 60 years</text>
<text transform="translate(232.90,66.9) rotate(-90) scale(0.94,1)" font-size="7.3" fill="#333">Renal</text>
<text transform="translate(254.80,66.9) rotate(-90) scale(0.94,1)" font-size="7.3" fill="#333">Prior malignancy</text>
<text transform="translate(273.40,66.9) rotate(-90) scale(0.94,1)" font-size="7.3" fill="#333">Arrhythmia</text>
<text transform="translate(293.80,66.9) rotate(-90) scale(0.94,1)" font-size="7.3" fill="#333">Obesity</text>
<text transform="translate(314.70,66.9) rotate(-90) scale(0.94,1)" font-size="7.3" fill="#333">Diabetes</text>
<text transform="translate(334.40,66.9) rotate(-90) scale(0.94,1)" font-size="7.3" fill="#333">Psychiatric</text>
<text transform="translate(354.50,66.9) rotate(-90) scale(0.94,1)" font-size="7.3" fill="#333">IBD</text>
<text transform="translate(374.80,66.9) rotate(-90) scale(0.94,1)" font-size="7.3" fill="#333">Hepatic disease</text>
<text transform="translate(394.40,66.9) rotate(-90) scale(0.94,1)" font-size="7.3" fill="#333">Cerebrovascular</text>
<text transform="translate(415.30,66.9) rotate(-90) scale(0.94,1)" font-size="7.3" fill="#333">Pulmonary</text>
<text transform="translate(435.90,66.9) rotate(-90) scale(0.94,1)" font-size="7.3" fill="#333">Cardiac</text>
<text transform="translate(456.40,66.9) rotate(-90) scale(0.94,1)" font-size="7.3" fill="#333">Peptic ulcer</text>
<text transform="translate(477.90,66.9) rotate(-90) scale(0.94,1)" font-size="7.3" fill="#333">Valvular</text>
<rect x="186.1" y="69.1" width="10.4" height="284.8" fill="url(#cb)" stroke="#111" stroke-width="1.2"/>
<text transform="translate(193.0,145.3) rotate(-90)" font-size="7.35" fill="#fff">Positively correlated</text>
<text transform="translate(192.8,350.1) rotate(-90)" font-size="7.25" fill="#fff" fill-opacity="0.9">Negatively correlated</text>
<rect x="0.5" y="0.5" width="519" height="361" fill="none" stroke="#1e1c1c" stroke-width="1"/>
</svg>
</body></html>
